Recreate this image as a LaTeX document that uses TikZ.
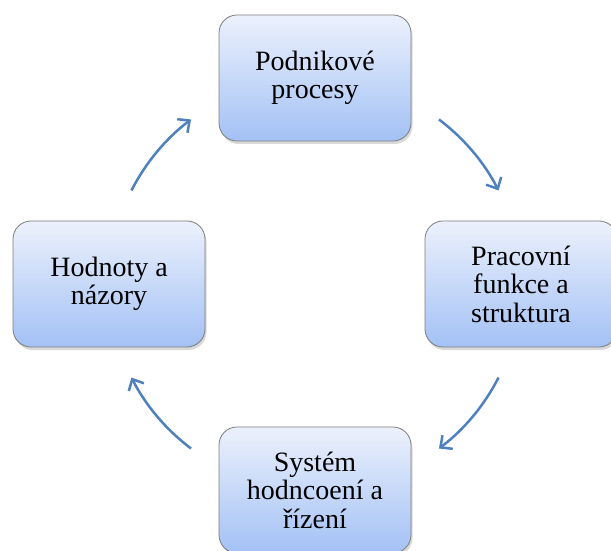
\documentclass[tikz,border=0pt]{standalone}
\usepackage{fontspec}
\setmainfont{Liberation Serif}
\usetikzlibrary{arrows.meta,positioning,shadows,calc}
\definecolor{turnblue}{RGB}{79,129,189}
\definecolor{boxtop}{RGB}{236,241,252}
\definecolor{boxbottom}{RGB}{163,193,245}
\definecolor{boxline}{RGB}{125,125,125}

\begin{document}
\begin{tikzpicture}[
    x=1pt, y=1pt,
    >={Straight Barb[length=9pt,width=17pt]},
    stage/.style={draw=boxline, rounded corners=18pt, line width=0.8pt,
                  minimum width=192pt, minimum height=126pt,
                  top color=boxtop, bottom color=boxbottom,
                  drop shadow={shadow xshift=1.5pt, shadow yshift=-3pt,
                               opacity=.3},
                  font=\fontsize{28}{28.5}\selectfont, align=center},
    turn/.style={->, draw=turnblue, line width=2.5pt,
                 bend left=13, looseness=.86},
  ]

  \useasboundingbox (0,0) rectangle (611,550);

  \coordinate (hub) at (315,266);

  \node[stage] (proc) at ($(hub)+(90:206)$) {Podnikové\\procesy};
  \node[stage] (func) at ($(hub)+(0:206)$) {Pracovní\\funkce a\\struktura};
  \node[stage] (eval) at ($(hub)+(270:206)$) {Systém\\hodncoení a\\řízení};
  \node[stage] (vals) at ($(hub)+(180:206)$) {Hodnoty a\\názory};

  % free ends of the arrows, on the same circle as the boxes
  \coordinate (proc-out) at ($(hub)+(53:206)$);
  \coordinate (func-in)  at ($(hub)+(27:206)$);
  \coordinate (func-out) at ($(hub)+(-27:206)$);
  \coordinate (eval-in)  at ($(hub)+(-53:206)$);
  \coordinate (eval-out) at ($(hub)+(233:206)$);
  \coordinate (vals-in)  at ($(hub)+(207:206)$);
  \coordinate (vals-out) at ($(hub)+(153:206)$);
  \coordinate (proc-in)  at ($(hub)+(127:206)$);

  \draw[turn] (proc-out) to (func-in);
  \draw[turn] (func-out) to (eval-in);
  \draw[turn] (eval-out) to (vals-in);
  \draw[turn] (vals-out) to (proc-in);

\end{tikzpicture}
\end{document}
